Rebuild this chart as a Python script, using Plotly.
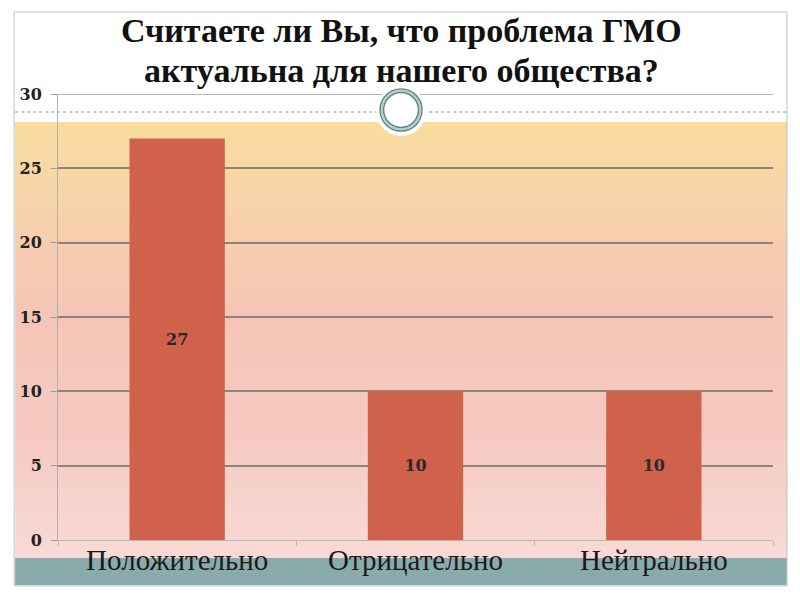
import plotly.graph_objects as go

categories = ["Положительно", "Отрицательно", "Нейтрально"]
answers = [27, 10, 10]
y_ticks = [0, 5, 10, 15, 20, 25, 30]
title_lines = ["Считаете ли Вы, что проблема ГМО", "актуальна для нашего общества?"]

# the page puts the figure 8px in from the corner, so size and place for that
OFF = 8
W, H = 800 - OFF, 600 - OFF
L, R, T, B = 56 - OFF, 800 - 773, 94 - OFF, 600 - 540
PW, PH = W - L - R, H - T - B


def px(x):
    return (x - OFF - L) / PW


def py(y):
    return (H - B - (y - OFF)) / PH


def hexmix(c1, c2, t):
    a = [int(c1[i:i + 2], 16) for i in (1, 3, 5)]
    b = [int(c2[i:i + 2], 16) for i in (1, 3, 5)]
    return "rgb(%d,%d,%d)" % tuple(round(a[i] + (b[i] - a[i]) * t) for i in range(3))


shapes = []

# slide background gradient (peach -> pink)
stops = [(122, "#f9dc9e"), (200, "#f7d3aa"), (310, "#f5c6b6"), (430, "#f5c9c1"), (558, "#f8dad5")]
step = 4
for y0 in range(122, 558, step):
    y1 = min(y0 + step, 558)
    ym = (y0 + y1) / 2
    for (sa, ca), (sb, cb) in zip(stops[:-1], stops[1:]):
        if sa <= ym <= sb:
            col = hexmix(ca, cb, (ym - sa) / (sb - sa))
            break
    shapes.append(dict(type="rect", xref="paper", yref="paper", layer="below",
                       x0=px(13), x1=px(787), y0=py(y1), y1=py(y0),
                       fillcolor=col, line=dict(width=0)))

# teal footer band
shapes.append(dict(type="rect", xref="paper", yref="paper", layer="below",
                   x0=px(13), x1=px(787), y0=py(585), y1=py(558),
                   fillcolor="#8aabab", line=dict(width=0)))
# slide frame
shapes.append(dict(type="rect", xref="paper", yref="paper", layer="below",
                   x0=px(12), x1=px(787), y0=py(586), y1=py(12),
                   fillcolor="rgba(0,0,0,0)", line=dict(color="#b9c4c4", width=1)))
# dashed separator
shapes.append(dict(type="line", xref="paper", yref="paper", layer="below",
                   x0=px(13), x1=px(787), y0=py(112), y1=py(112),
                   line=dict(color="#8f8f8f", width=1, dash="3px,3px")))
# top gridline (lighter)
shapes.append(dict(type="line", xref="paper", yref="y", layer="above",
                   x0=0, x1=1, y0=30, y1=30, line=dict(color="#b4b4b4", width=2)))
# ornament
shapes.append(dict(type="circle", xref="paper", yref="paper", layer="above",
                   x0=px(400 - 25), x1=px(400 + 25), y0=py(111 + 25), y1=py(111 - 25),
                   fillcolor="white", line=dict(width=0)))
for r, c, w in [(21, "#5f8888", 1.5), (19.3, "#b8cccc", 2), (17.5, "#5f8888", 1.5)]:
    shapes.append(dict(type="circle", xref="paper", yref="paper", layer="above",
                       x0=px(400 - r), x1=px(400 + r), y0=py(110 + r), y1=py(110 - r),
                       fillcolor="rgba(0,0,0,0)", line=dict(color=c, width=w)))

fig = go.Figure()
fig.add_trace(go.Bar(
    x=categories, y=answers, width=0.4,
    marker=dict(color="#d0614a", line=dict(width=0)),
    text=[str(v) for v in answers], textposition="inside", insidetextanchor="middle",
    textangle=0,
    textfont=dict(family="DejaVu Serif", size=16, color="#2a2a2a", weight="bold"),
))

annotations = []
for i, line in enumerate(title_lines):
    annotations.append(dict(text="<b>%s</b>" % line, xref="paper", yref="paper",
                            x=px(400), y=py(31 + 39 * i), xanchor="center", yanchor="middle",
                            showarrow=False,
                            font=dict(family="Liberation Serif", size=34, color="#111111")))

fig.update_layout(
    width=W, height=H,
    margin=dict(l=L, r=R, t=T, b=B),
    paper_bgcolor="white", plot_bgcolor="rgba(0,0,0,0)",
    shapes=shapes, annotations=annotations,
    showlegend=False, bargap=0.6,
)
fig.update_xaxes(
    showline=True, linecolor="#b8b8b8", linewidth=1,
    ticks="outside", tickson="boundaries", ticklen=5, tickcolor="#b8b8b8",
    tickfont=dict(family="Liberation Serif", size=29, color="#1a1a1a"),
    ticklabelstandoff=-6,
    showgrid=False,
)
fig.update_yaxes(
    range=[0, 30], tickvals=y_ticks,
    showline=True, linecolor="#b0b0b0", linewidth=1,
    ticks="outside", ticklen=6, tickcolor="#9a9a9a",
    showgrid=True, gridcolor="#8e847e", gridwidth=1.5, zeroline=False,
    tickfont=dict(family="DejaVu Serif", size=16, color="#222222", weight="bold"),
    ticklabelstandoff=6,
)

fig.write_html("out.html")
